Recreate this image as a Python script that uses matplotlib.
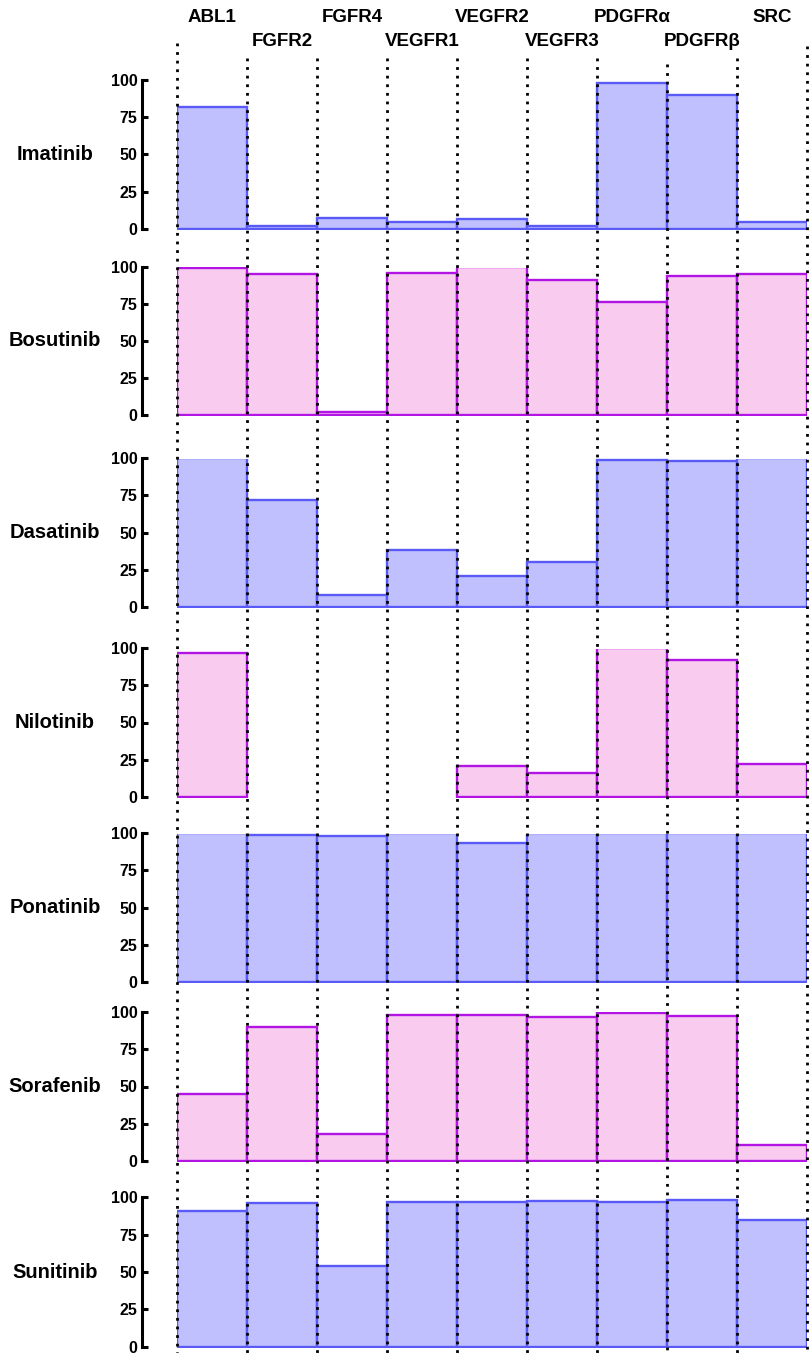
import numpy as np
import matplotlib
matplotlib.use("Agg")
import matplotlib.pyplot as plt
from matplotlib.patches import Rectangle

plt.rcParams['font.family'] = ['Liberation Sans', 'DejaVu Sans']
plt.rcParams['font.weight'] = 'bold'

kinases = ['ABL1', 'FGFR2', 'FGFR4', 'VEGFR1', 'VEGFR2', 'VEGFR3',
           'PDGFR\u03b1', 'PDGFR\u03b2', 'SRC']
drugs = ['Imatinib', 'Bosutinib', 'Dasatinib', 'Nilotinib',
         'Ponatinib', 'Sorafenib', 'Sunitinib']

# % inhibition per kinase (0 = no bar)
imatinib = [82, 2, 7, 4.5, 6.5, 2, 98, 90, 4.5]
bosutinib = [99, 95, 2, 96, 100, 91, 76, 94, 95]
dasatinib = [100, 72, 8, 38, 21, 30, 99, 98, 100]
nilotinib = [97, 0, 0, 0, 21, 16, 100, 92, 22]
ponatinib = [100, 99, 98, 100, 93.5, 100, 100, 100, 100]
sorafenib = [45, 90, 18, 98, 98, 96.5, 99, 97, 11]
sunitinib = [91, 96, 54, 97, 97, 97.5, 97, 98, 85]
values = [imatinib, bosutinib, dasatinib, nilotinib,
          ponatinib, sorafenib, sunitinib]
yticks = [0, 25, 50, 75, 100]

blue = ('#C0C0FF', '#5A5AF6')
pink = ('#F8CBEF', '#B214E4')

W, H = 809, 1353
fig = plt.figure(figsize=(W / 100, H / 100), dpi=100)

# pixel rows of the 100 and 0 gridlines for each panel
tops = [80, 266.7, 458.3, 648.3, 833.3, 1012, 1197.3]
zeros = [228.7, 415, 606.7, 796.7, 981.7, 1161, 1346.7]
x0, x1 = 177, 807
pad = 1.0  # units below zero so the bottom edge is not clipped

for i, (drug, vals) in enumerate(zip(drugs, values)):
    ppu = (zeros[i] - tops[i]) / 100.0
    bottom_px = zeros[i] + pad * ppu
    ax = fig.add_axes([x0 / W, 1 - bottom_px / H, (x1 - x0) / W,
                       (bottom_px - tops[i]) / H])
    fill, edge = blue if i % 2 == 0 else pink
    xs = [j for j, v in enumerate(vals) if v > 0]
    hs = [vals[j] for j in xs]
    bars = ax.bar(xs, hs, width=1.0, color=fill, edgecolor=edge, linewidth=1.7)
    # bars that reach 100 show no top outline
    clip = Rectangle((-0.5, -pad), 9, pad + 99.2, transform=ax.transData)
    for b, h in zip(bars, hs):
        if h >= 100:
            b.set_clip_path(clip)
    ax.set_xlim(-0.5, 8.5)
    ax.set_ylim(-pad, 100)
    for s in ['top', 'right', 'bottom']:
        ax.spines[s].set_visible(False)
    ax.spines['left'].set_position(('outward', 25))
    ax.spines['left'].set_bounds(0, 100)
    ax.spines['left'].set_linewidth(2.2)
    ax.set_xticks([])
    ax.set_yticks(yticks)
    ax.tick_params(axis='y', direction='in', length=4, width=2.2,
                   pad=3.5, labelsize=11.5)
    for lab in ax.get_yticklabels():
        lab.set_fontweight('bold')
    ax.patch.set_visible(False)
    fig.text(55 / W, 1 - (tops[i] + zeros[i]) / 2 / H, drug,
             ha='center', va='center', fontsize=14.5, fontweight='bold')

# dotted column separators and kinase names on top
ov = fig.add_axes([x0 / W, 0, (x1 - x0) / W, 1], zorder=10)
ov.set_xlim(-0.5, 8.5)
ov.set_ylim(H, 0)
ov.axis('off')
line_tops = [43, 58, 58, 58, 58, 58, 58, 64, 58, 46]
for k, yt in enumerate(line_tops):
    ov.plot([k - 0.5, k - 0.5], [yt, H], color='black', linewidth=2.0,
            linestyle=(0, (1, 2.1)), clip_on=False)
for k, name in enumerate(kinases):
    y = 17 if k % 2 == 0 else 42
    ov.text(k, y, name, ha='center', va='center', fontsize=13.5,
            fontweight='bold', clip_on=False)

fig.savefig('out.png', dpi=100)
